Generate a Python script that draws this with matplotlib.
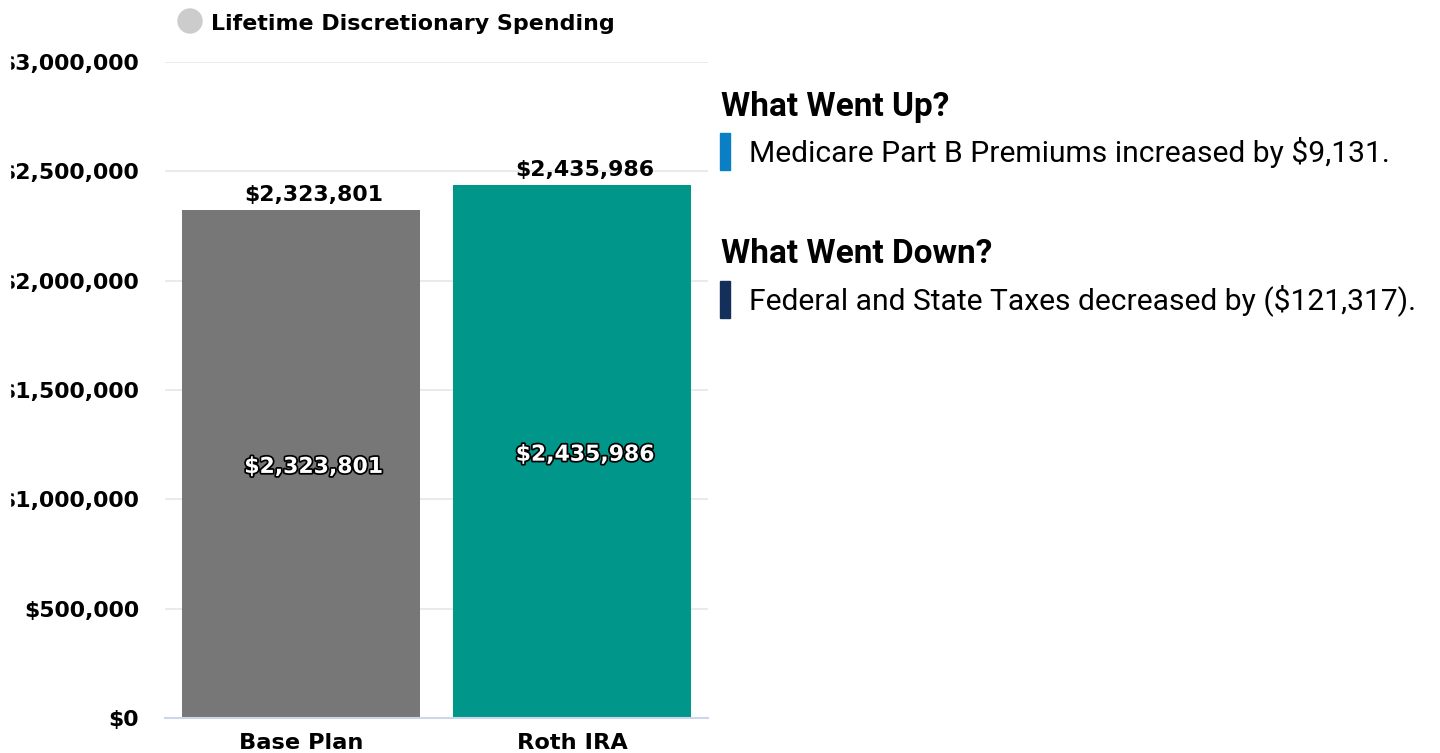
import matplotlib
matplotlib.use("Agg")
import matplotlib.pyplot as plt
import matplotlib.patheffects as pe
from matplotlib.patches import Rectangle, Ellipse
from matplotlib.ticker import FuncFormatter

categories = ["Base Plan", "Roth IRA"]
spending = [2323801, 2435986]
bar_colors = ["#777777", "#00968a"]
series_name = "Lifetime Discretionary Spending"
y_ticks = [0, 500000, 1000000, 1500000, 2000000, 2500000, 3000000]

up_title = "What Went Up?"
up_items = ["Medicare Part B Premiums increased by $9,131."]
down_title = "What Went Down?"
down_items = ["Federal and State Taxes decreased by ($121,317)."]

W, H = 1440, 753
PX = 0.72  # points per pixel at 100 dpi
fig = plt.figure(figsize=(W / 100, H / 100), dpi=100)
fig.patch.set_facecolor("white")


def fx(px):
    return px / W


def fy(py):
    return 1 - py / H


ax = fig.add_axes([fx(165), fy(718), fx(708) - fx(165), fy(62) - fy(718)])
x = list(range(len(categories)))
ax.bar(x, spending, width=0.878, color=bar_colors, zorder=2)
ax.set_xlim(-0.5, len(categories) - 0.5)
ax.set_ylim(0, 3000000)
ax.set_yticks(y_ticks)
ax.yaxis.set_major_formatter(FuncFormatter(lambda v, p: f"${v:,.0f}"))
ax.set_xticks(x)
ax.set_xticklabels(categories)
for lbl in ax.get_yticklabels():
    lbl.set_fontweight("bold")
    lbl.set_fontsize(15.8)
for lbl in ax.get_xticklabels():
    lbl.set_fontweight("bold")
    lbl.set_fontsize(16.2)
ax.tick_params(axis="y", length=0, pad=26 * PX)
ax.tick_params(axis="x", length=0, pad=15 * PX)
ax.grid(axis="y", color="#e6e6e6", linewidth=1.2, zorder=0)
for s in ["top", "right", "left"]:
    ax.spines[s].set_visible(False)
ax.spines["bottom"].set_color("#ccd6eb")
ax.spines["bottom"].set_linewidth(1.5)
ax.spines["bottom"].set_zorder(3)

for xi, v in zip(x, spending):
    label = f"${v:,.0f}"
    ax.annotate(label, (xi, v), xytext=(13 * PX, 5 * PX),
                textcoords="offset points", ha="center", va="bottom",
                fontsize=15.8, fontweight="bold", color="black")
    ax.annotate(label, (xi, v / 2), xytext=(13 * PX, -3 * PX),
                textcoords="offset points", ha="center", va="center",
                fontsize=15.8, fontweight="bold", color="white", zorder=4,
                path_effects=[pe.withStroke(linewidth=2.5, foreground="black")])

# the chart container clips the widest axis labels on the left
fig.patches.append(Rectangle((0, fy(700)), fx(10), (700 - 40) / H,
                             color="white", transform=fig.transFigure,
                             figure=fig, zorder=5))

# legend marker and series title
fig.patches.append(Ellipse((fx(190), fy(21)), fx(24), 24 / H, color="#cccccc",
                           transform=fig.transFigure, figure=fig))
fig.text(fx(211), fy(30), series_name, ha="left", va="baseline",
         fontsize=15.9, fontweight="bold", color="black")

# side notes
sections = [
    (up_title, up_items, "#0a7fc4", 116, 133, 162),
    (down_title, down_items, "#14305a", 263, 281, 309),
]
for title, items, color, t_base, bar_top, i_base in sections:
    fig.text(fx(721), fy(t_base), title, ha="left", va="baseline",
             fontsize=24, fontweight="bold", family="Roboto", color="black")
    for item in items:
        fig.patches.append(Rectangle((fx(720), fy(bar_top + 37)), fx(10),
                                     37 / H, color=color,
                                     transform=fig.transFigure, figure=fig))
        fig.text(fx(749), fy(i_base), item, ha="left", va="baseline",
                 fontsize=21.6, family="Roboto", color="black")

fig.savefig("out.png", dpi=100, facecolor="white")
